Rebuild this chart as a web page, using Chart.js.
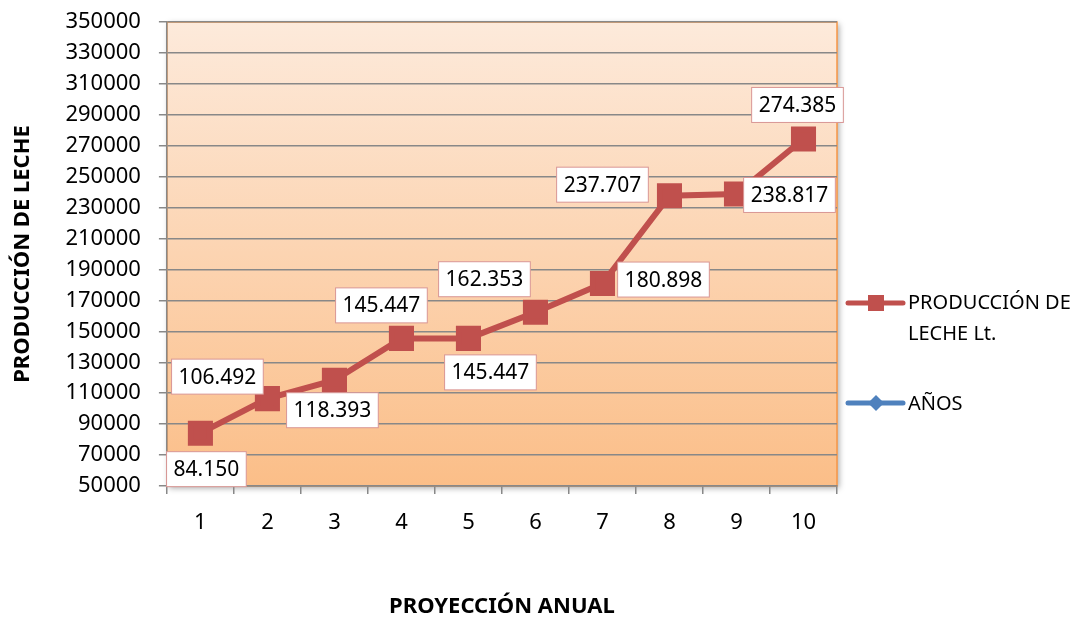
<!DOCTYPE html>
<html>
<head>
<meta charset="utf-8">
<script src="https://cdn.jsdelivr.net/npm/chart.js@4/dist/chart.umd.min.js"></script>
<style>
  html, body { margin: 0; padding: 0; background: #fff; }
  #wrap { width: 1076px; height: 618px; }
</style>
</head>
<body>
<div id="wrap"><canvas id="myChart" width="1076" height="618"></canvas></div>
<script>
const years = ['1', '2', '3', '4', '5', '6', '7', '8', '9', '10'];
const milk = [84150, 106492, 118393, 145447, 145447, 162353, 180898, 237707, 238817, 274385];
const yearsSeries = [1, 2, 3, 4, 5, 6, 7, 8, 9, 10];
const milkLabels = ['84.150', '106.492', '118.393', '145.447', '145.447', '162.353', '180.898', '237.707', '238.817', '274.385'];

// where each value box sits relative to its point (px)
const labelOffsets = [
  [6, 36], [-50, -22], [-2, 30], [-20, -33], [22, 34],
  [-51, -33], [61, -4], [-67, -11], [53, 1], [-6, -34],
];

const FONT = '"Noto Sans", sans-serif';
const RED = '#C0504D';
const BLUE = '#4F81BD';

const plotBg = {
  id: 'plotBg',
  beforeDraw(chart) {
    const { ctx, chartArea: a } = chart;
    ctx.save();
    ctx.shadowColor = 'rgba(0,0,0,0.35)';
    ctx.shadowBlur = 6;
    ctx.shadowOffsetX = 2;
    ctx.shadowOffsetY = 2;
    const g = ctx.createLinearGradient(0, a.top, 0, a.bottom);
    g.addColorStop(0, '#FDEADB');
    g.addColorStop(1, '#FBBE88');
    ctx.fillStyle = g;
    ctx.fillRect(a.left, a.top, a.right - a.left, a.bottom - a.top);
    ctx.restore();
    ctx.save();
    ctx.strokeStyle = '#F79646';
    ctx.lineWidth = 1.5;
    ctx.strokeRect(a.left, a.top, a.right - a.left, a.bottom - a.top);
    ctx.restore();
  },
};

const valueBoxes = {
  id: 'valueBoxes',
  afterDatasetsDraw(chart) {
    const { ctx } = chart;
    const meta = chart.getDatasetMeta(0);
    ctx.save();
    ctx.font = '21px ' + FONT;
    ctx.textAlign = 'center';
    ctx.textBaseline = 'middle';
    meta.data.forEach((pt, i) => {
      const cx = pt.x + labelOffsets[i][0];
      const cy = pt.y + labelOffsets[i][1];
      const w = ctx.measureText(milkLabels[i]).width + 14;
      const h = 35;
      ctx.fillStyle = '#fff';
      ctx.fillRect(cx - w / 2, cy - h / 2, w, h);
      ctx.strokeStyle = '#D99694';
      ctx.lineWidth = 1;
      ctx.strokeRect(cx - w / 2, cy - h / 2, w, h);
      ctx.fillStyle = '#000';
      ctx.fillText(milkLabels[i], cx, cy + 1);
    });
    ctx.restore();
  },
};

const sideLegend = {
  id: 'sideLegend',
  afterDraw(chart) {
    const { ctx } = chart;
    const x0 = 848, x1 = 903;
    ctx.save();
    ctx.lineCap = 'round';
    ctx.lineWidth = 5;
    // series 1
    ctx.strokeStyle = RED;
    ctx.beginPath(); ctx.moveTo(x0, 303); ctx.lineTo(x1, 303); ctx.stroke();
    ctx.fillStyle = RED;
    ctx.fillRect(868, 295, 16, 16);
    // series 2
    ctx.strokeStyle = BLUE;
    ctx.beginPath(); ctx.moveTo(x0, 403); ctx.lineTo(x1, 403); ctx.stroke();
    ctx.fillStyle = BLUE;
    ctx.beginPath();
    ctx.moveTo(876, 395); ctx.lineTo(884, 403); ctx.lineTo(876, 411); ctx.lineTo(868, 403);
    ctx.closePath(); ctx.fill();
    ctx.fillStyle = '#000';
    ctx.font = '20px ' + FONT;
    ctx.textAlign = 'left';
    ctx.textBaseline = 'middle';
    ctx.fillText('PRODUCCIÓN DE', 908, 303);
    ctx.fillText('LECHE Lt.', 908, 334);
    ctx.fillText('AÑOS', 908, 404);
    ctx.restore();
  },
};

new Chart(document.getElementById('myChart'), {
  type: 'line',
  data: {
    labels: years,
    datasets: [
      {
        label: 'PRODUCCIÓN DE LECHE Lt.',
        data: milk,
        borderColor: RED,
        backgroundColor: RED,
        borderWidth: 6,
        pointStyle: 'rect',
        pointRadius: 13.5,
        pointHoverRadius: 13.5,
        tension: 0,
      },
      {
        label: 'AÑOS',
        data: yearsSeries,
        borderColor: BLUE,
        backgroundColor: BLUE,
        borderWidth: 5,
        pointStyle: 'rectRot',
        pointRadius: 8,
      },
    ],
  },
  options: {
    responsive: false,
    animation: false,
    layout: { padding: { left: 10, right: 239, top: 0, bottom: 0 } },
    plugins: {
      legend: { display: false },
      tooltip: { enabled: false },
    },
    scales: {
      x: {
        offset: true,
        afterFit: s => { s.height = 132; },
        grid: {
          display: true,
          drawOnChartArea: false,
          offset: true,
          color: '#888',
          lineWidth: 1.5,
          tickLength: 8,
        },
        border: { color: '#888', width: 1.5 },
        ticks: { color: '#000', font: { family: FONT, size: 22 }, padding: 16 },
        title: {
          display: true,
          text: 'PROYECCIÓN ANUAL',
          color: '#000',
          font: { family: FONT, size: 22, weight: 'bold', lineHeight: 1 },
          padding: { top: 0, bottom: 0 },
        },
      },
      y: {
        min: 50000,
        max: 350000,
        afterFit: s => { s.paddingTop = 22; s.paddingBottom = 0; },
        ticks: {
          stepSize: 20000,
          color: '#000',
          font: { family: FONT, size: 22 },
          padding: 18,
          callback: v => String(v),
        },
        grid: { color: '#888', lineWidth: 1.5, tickLength: 8 },
        border: { color: '#888', width: 1.5 },
        title: {
          display: true,
          text: 'PRODUCCIÓN DE LECHE',
          color: '#000',
          font: { family: FONT, size: 22, weight: 'bold' },
          padding: { top: 0, bottom: 11 },
        },
      },
    },
  },
  plugins: [plotBg, valueBoxes, sideLegend],
});
</script>
</body>
</html>
